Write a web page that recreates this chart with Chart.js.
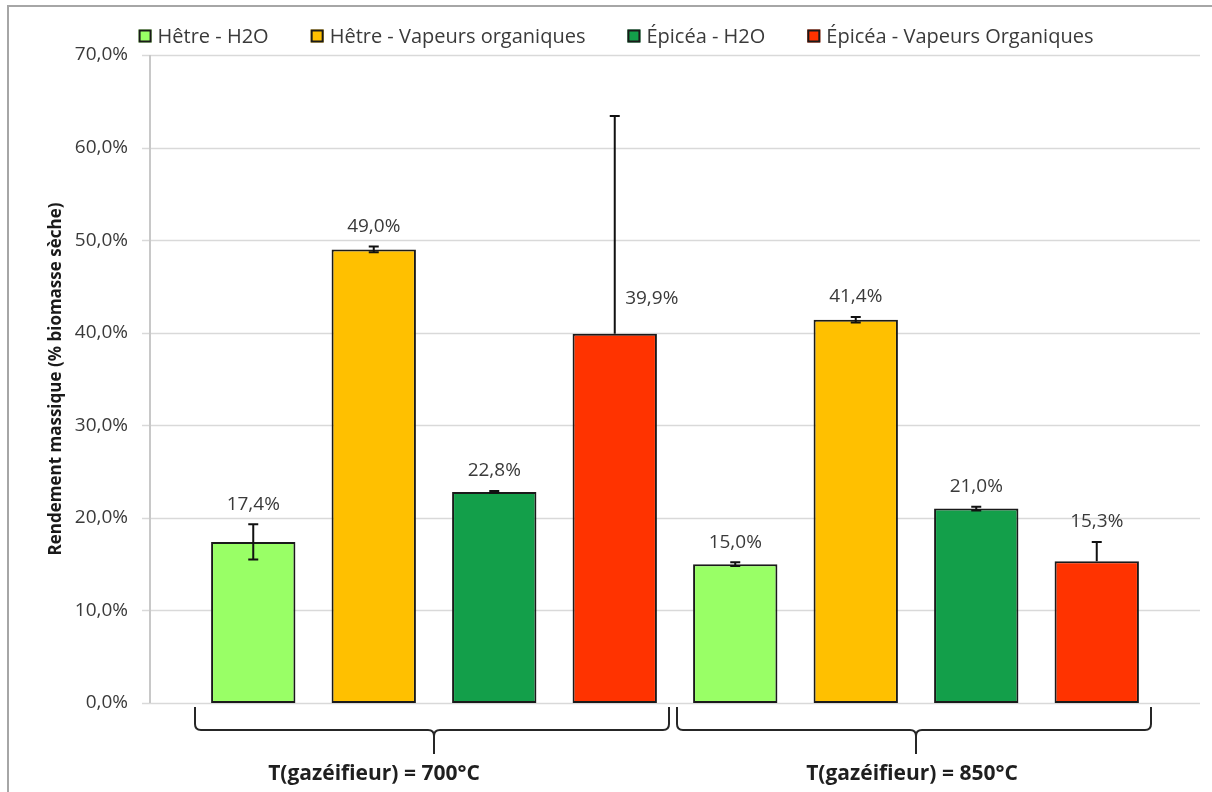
<!DOCTYPE html>
<html>
<head>
<meta charset="utf-8">
<script src="https://cdn.jsdelivr.net/npm/chart.js@4.4.1/dist/chart.umd.min.js"></script>
<style>
  body { margin: 0; background: #fff; }
  canvas { display: block; }
</style>
</head>
<body>
<canvas id="chart" width="1212" height="792"></canvas>
<script>
// categories (gasifier temperature)
const groups = ['T(gazéifieur) = 700°C', 'T(gazéifieur) = 850°C'];
const seriesNames = ['Hêtre - H2O', 'Hêtre - Vapeurs organiques', 'Épicéa - H2O', 'Épicéa - Vapeurs Organiques'];
const seriesColors = ['#99FF66', '#FFC000', '#139F4A', '#FF3300'];

// yields, % dry biomass
const hetreH2O = [17.4, 15.0];
const hetreVap = [49.0, 41.4];
const epiceaH2O = [22.8, 21.0];
const epiceaVap = [39.9, 15.3];

// error bars (plus / minus)
const hetreH2OErrPlus = [1.9, 0.2];
const hetreH2OErrMinus = [1.9, 0.2];
const hetreVapErrPlus = [0.3, 0.3];
const hetreVapErrMinus = [0.3, 0.3];
const epiceaH2OErrPlus = [0.1, 0.2];
const epiceaH2OErrMinus = [0.1, 0.2];
const epiceaVapErrPlus = [23.5, 2.1];
const epiceaVapErrMinus = [0, 0];

const yTicks = [0, 10, 20, 30, 40, 50, 60, 70];

const seriesData = [hetreH2O, hetreVap, epiceaH2O, epiceaVap];
const errPlus = [hetreH2OErrPlus, hetreVapErrPlus, epiceaH2OErrPlus, epiceaVapErrPlus];
const errMinus = [hetreH2OErrMinus, hetreVapErrMinus, epiceaH2OErrMinus, epiceaVapErrMinus];

const FONT = '"Open Sans", "Noto Sans", sans-serif';
const fmt = v => v.toFixed(1).replace('.', ',') + '%';

// gridlines run past the bar area like in the original
const framePlugin = {
  id: 'frame',
  beforeDatasetsDraw(chart) {
    const ctx = chart.ctx;
    const area = chart.chartArea;
    const y = chart.scales.y;
    const gx1 = area.left - 43, gx2 = area.right + 43;
    ctx.save();
    ctx.strokeStyle = '#a6a6a6';
    ctx.lineWidth = 2;
    ctx.strokeRect(8, 6, 1400, 1000);

    ctx.strokeStyle = '#d9d9d9';
    ctx.lineWidth = 1.5;
    yTicks.forEach(v => {
      const py = Math.round(y.getPixelForValue(v)) + 0.5;
      ctx.beginPath();
      ctx.moveTo(gx1 - 8, py);
      ctx.lineTo(gx2, py);
      ctx.stroke();
    });
    ctx.strokeStyle = '#c8c8c8';
    ctx.lineWidth = 2;
    ctx.beginPath();
    ctx.moveTo(gx1, y.getPixelForValue(70));
    ctx.lineTo(gx1, y.getPixelForValue(0));
    ctx.stroke();
    ctx.restore();
  },
  afterDatasetsDraw(chart) {
    const ctx = chart.ctx;
    const y = chart.scales.y;
    ctx.save();
    // error bars
    chart.data.datasets.forEach((ds, i) => {
      const meta = chart.getDatasetMeta(i);
      meta.data.forEach((bar, j) => {
        const v = ds.data[j];
        const top = y.getPixelForValue(v + errPlus[i][j]);
        const bot = y.getPixelForValue(v - errMinus[i][j]);
        ctx.strokeStyle = '#111';
        ctx.lineWidth = 2;
        ctx.beginPath();
        ctx.moveTo(bar.x, top);
        ctx.lineTo(bar.x, bot);
        ctx.moveTo(bar.x - 5, top);
        ctx.lineTo(bar.x + 5, top);
        if (errMinus[i][j] > 0) {
          ctx.moveTo(bar.x - 5, bot);
          ctx.lineTo(bar.x + 5, bot);
        }
        ctx.stroke();
      });
    });
    // value labels
    ctx.font = '19px ' + FONT;
    ctx.fillStyle = '#3a3a3a';
    ctx.textAlign = 'center';
    ctx.textBaseline = 'middle';
    chart.data.datasets.forEach((ds, i) => {
      const meta = chart.getDatasetMeta(i);
      meta.data.forEach((bar, j) => {
        const v = ds.data[j];
        const top = y.getPixelForValue(v + errPlus[i][j]);
        if (errPlus[i][j] > 10) {
          ctx.fillText(fmt(v), bar.x + 37, bar.y - 35);
        } else {
          ctx.fillText(fmt(v), bar.x, Math.min(top, bar.y) - 20);
        }
      });
    });
    ctx.restore();
  },
  afterDraw(chart) {
    const ctx = chart.ctx;
    const area = chart.chartArea;
    const x = chart.scales.x;
    ctx.save();
    // braces under each group
    const half = (x.getPixelForValue(1) - x.getPixelForValue(0)) / 2;
    const y0 = area.bottom + 4;
    ctx.strokeStyle = '#262626';
    ctx.lineWidth = 2;
    groups.forEach((g, i) => {
      const c = x.getPixelForValue(i);
      const x1 = c - half + 2, x2 = c + half - 6;
      ctx.beginPath();
      ctx.moveTo(x1, y0);
      ctx.lineTo(x1, y0 + 17);
      ctx.quadraticCurveTo(x1, y0 + 23, x1 + 6, y0 + 23);
      ctx.lineTo(c - 6, y0 + 23);
      ctx.quadraticCurveTo(c, y0 + 23, c, y0 + 29);
      ctx.lineTo(c, y0 + 47);
      ctx.moveTo(c, y0 + 29);
      ctx.quadraticCurveTo(c, y0 + 23, c + 6, y0 + 23);
      ctx.lineTo(x2 - 6, y0 + 23);
      ctx.quadraticCurveTo(x2, y0 + 23, x2, y0 + 17);
      ctx.lineTo(x2, y0);
      ctx.stroke();
    });
    // group labels
    const shift = [-60, -4];
    ctx.font = 'bold 21px ' + FONT;
    ctx.fillStyle = '#1f1f1f';
    ctx.textAlign = 'center';
    ctx.textBaseline = 'middle';
    groups.forEach((g, i) => {
      ctx.fillText(g, x.getPixelForValue(i) + shift[i], area.bottom + 71);
    });
    // legend
    ctx.font = '20px ' + FONT;
    const box = 13, gapText = 6, gapItem = 42;
    const widths = seriesNames.map(n => ctx.measureText(n).width);
    const total = widths.reduce((a, w) => a + box + gapText + w, 0) + gapItem * (seriesNames.length - 1);
    let lx = chart.width / 2 + 10 - total / 2;
    const ly = 36;
    ctx.textAlign = 'left';
    seriesNames.forEach((n, i) => {
      ctx.fillStyle = seriesColors[i];
      ctx.fillRect(lx, ly - box / 2, box, box);
      ctx.strokeStyle = '#1a1a1a';
      ctx.lineWidth = 2;
      ctx.strokeRect(lx + 1, ly - box / 2 + 1, box - 2, box - 2);
      ctx.fillStyle = '#3a3a3a';
      ctx.fillText(n, lx + box + gapText, ly + 1);
      lx += box + gapText + widths[i] + gapItem;
    });
    ctx.restore();
  }
};

new Chart(document.getElementById('chart').getContext('2d'), {
  type: 'bar',
  data: {
    labels: groups,
    datasets: seriesNames.map((name, i) => ({
      label: name,
      data: seriesData[i],
      backgroundColor: seriesColors[i],
      borderColor: '#1a1a1a',
      borderWidth: 2,
      borderSkipped: false,
      categoryPercentage: 1.0,
      barPercentage: 0.7
    }))
  },
  options: {
    responsive: false,
    animation: false,
    devicePixelRatio: 1,
    layout: { padding: { left: 43, right: 55, top: 55, bottom: 81 } },
    plugins: {
      legend: { display: false },
      tooltip: { enabled: false }
    },
    scales: {
      x: {
        grid: { display: false },
        border: { display: false },
        ticks: { display: false }
      },
      y: {
        min: 0,
        max: 70,
        afterFit(scale) { scale.width = 150; },
        afterBuildTicks(scale) { scale.ticks = yTicks.map(v => ({ value: v })); },
        grid: { display: false, drawTicks: true, tickLength: 57 },
        border: { display: false },
        ticks: {
          padding: 8,
          color: '#3a3a3a',
          font: { family: FONT, size: 19 },
          callback: v => fmt(v)
        },
        title: {
          display: true,
          text: 'Rendement massique (% biomasse sèche)',
          color: '#1a1a1a',
          font: { family: FONT, size: 17, weight: 'bold' },
          padding: { top: 3, bottom: 4 }
        }
      }
    }
  },
  plugins: [framePlugin]
});
</script>
</body>
</html>
